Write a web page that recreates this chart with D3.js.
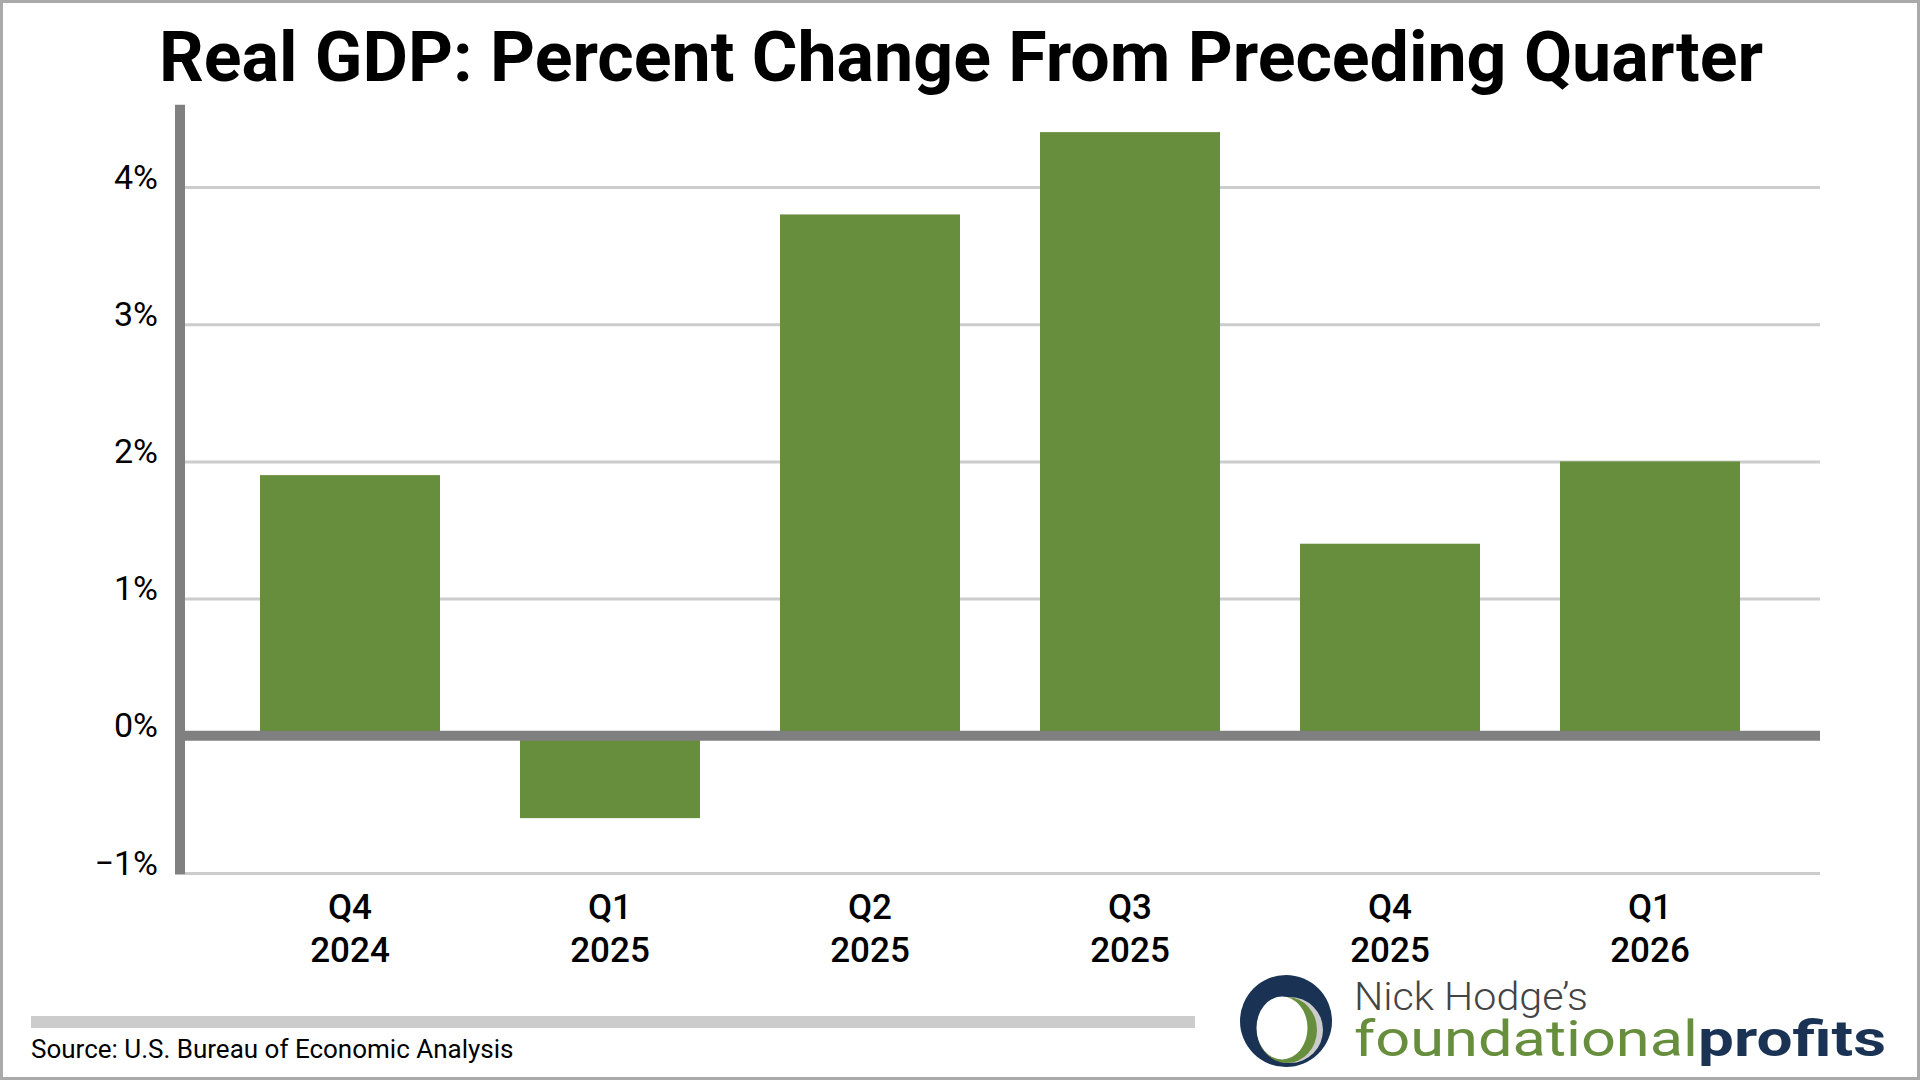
<!DOCTYPE html>
<html>
<head>
<meta charset="utf-8">
<script src="https://cdn.jsdelivr.net/npm/d3@7"></script>
<style>
  body { margin: 0; background: #fff; }
  svg { display: block; font-family: Roboto, "Noto Sans", sans-serif; }
</style>
</head>
<body>
<svg id="chart" width="1920" height="1080"></svg>
<script>
const quarters = ["Q4", "Q1", "Q2", "Q3", "Q4", "Q1"];
const years = ["2024", "2025", "2025", "2025", "2025", "2026"];
const gdpChange = [1.9, -0.6, 3.8, 4.4, 1.4, 2.0];
const yTicks = [-1, 0, 1, 2, 3, 4];

const svg = d3.select("#chart");
const width = 1920, height = 1080;
const plotLeft = 185, plotRight = 1820;

const labels = quarters.map(function(q, i) { return q + " " + years[i]; });

const xScale = d3.scaleBand()
  .domain(labels)
  .range([220, 1780])
  .paddingInner(80 / 260)
  .paddingOuter(40 / 260);

const yScale = d3.scaleLinear()
  .domain([-1, 4])
  .range([873, 187]);

// outer frame
svg.append("rect")
  .attr("x", 1.5).attr("y", 1.5)
  .attr("width", width - 3).attr("height", height - 3)
  .attr("fill", "#fff")
  .attr("stroke", "#aaaaaa")
  .attr("stroke-width", 3);

// title
svg.append("text")
  .attr("x", 961)
  .attr("y", 81)
  .attr("text-anchor", "middle")
  .attr("font-size", 70)
  .attr("font-weight", 700)
  .attr("fill", "#000")
  .attr("textLength", 1604)
  .attr("lengthAdjust", "spacingAndGlyphs")
  .text("Real GDP: Percent Change From Preceding Quarter");

// gridlines + y labels
const yAxis = svg.append("g")
  .attr("transform", "translate(" + plotLeft + ",0)")
  .call(d3.axisLeft(yScale)
    .tickValues(yTicks)
    .tickSize(-(plotRight - plotLeft))
    .tickPadding(27)
    .tickFormat(function(d) { return d3.format("d")(d) + "%"; }));

yAxis.select(".domain").remove();
yAxis.selectAll(".tick line")
  .attr("stroke", "#cccccc")
  .attr("stroke-width", 3);
yAxis.selectAll(".tick text")
  .attr("font-size", 34)
  .attr("font-family", "Roboto")
  .attr("fill", "#000")
  .attr("dy", 1);

// bars
svg.append("g")
  .selectAll("rect")
  .data(gdpChange)
  .enter()
  .append("rect")
  .attr("x", function(d, i) { return xScale(labels[i]); })
  .attr("width", xScale.bandwidth())
  .attr("y", function(d) { return yScale(Math.max(0, d)); })
  .attr("height", function(d) { return Math.abs(yScale(d) - yScale(0)); })
  .attr("fill", "#678e3d");

// zero line
svg.append("line")
  .attr("x1", 175).attr("x2", plotRight)
  .attr("y1", yScale(0)).attr("y2", yScale(0))
  .attr("stroke", "#808080")
  .attr("stroke-width", 10);

// y axis line
svg.append("line")
  .attr("x1", 180).attr("x2", 180)
  .attr("y1", yScale(4.6)).attr("y2", yScale(-1) + 1.5)
  .attr("stroke", "#808080")
  .attr("stroke-width", 10);

// x labels (two lines)
const xAxis = svg.append("g")
  .attr("transform", "translate(0," + yScale(-1) + ")")
  .call(d3.axisBottom(xScale).tickSize(0).tickFormat(""));
xAxis.select(".domain").remove();
xAxis.selectAll(".tick").each(function(d, i) {
  const t = d3.select(this).append("text")
    .attr("text-anchor", "middle")
    .attr("font-size", 35)
    .attr("font-weight", 500)
    .attr("font-family", "Roboto")
    .attr("fill", "#000");
  t.append("tspan").attr("x", 0).attr("y", 46).text(quarters[i]);
  t.append("tspan").attr("x", 0).attr("y", 89).text(years[i]);
});

// source bar + text
svg.append("rect")
  .attr("x", 31).attr("y", 1016)
  .attr("width", 1164).attr("height", 12)
  .attr("fill", "#cccccc");

svg.append("text")
  .attr("x", 31).attr("y", 1058)
  .attr("font-size", 26)
  .attr("fill", "#000")
  .text("Source: U.S. Bureau of Economic Analysis");

// logo
const logo = svg.append("g");
logo.append("circle").attr("cx", 1286).attr("cy", 1021).attr("r", 46).attr("fill", "#1a3354");
logo.append("ellipse").attr("cx", 1290).attr("cy", 1030).attr("rx", 33).attr("ry", 33).attr("fill", "#cccccc");
logo.append("ellipse").attr("cx", 1287).attr("cy", 1030).attr("rx", 30).attr("ry", 33).attr("fill", "#678e3d");
logo.append("ellipse").attr("cx", 1282).attr("cy", 1028).attr("rx", 25.5).attr("ry", 31.5).attr("fill", "#fff");

logo.append("text")
  .attr("x", 1354).attr("y", 1010)
  .attr("font-size", 38)
  .attr("font-weight", 300)
  .attr("fill", "#444")
  .attr("textLength", 234)
  .attr("lengthAdjust", "spacingAndGlyphs")
  .text("Nick Hodge\u2019s");

logo.append("text")
  .attr("x", 1354).attr("y", 1056)
  .attr("font-size", 50)
  .attr("fill", "#678e3d")
  .attr("textLength", 344)
  .attr("lengthAdjust", "spacingAndGlyphs")
  .text("foundational");

logo.append("text")
  .attr("x", 1698).attr("y", 1056)
  .attr("font-size", 50)
  .attr("font-weight", 700)
  .attr("fill", "#1a3354")
  .attr("textLength", 188)
  .attr("lengthAdjust", "spacingAndGlyphs")
  .text("profits");
</script>
</body>
</html>
